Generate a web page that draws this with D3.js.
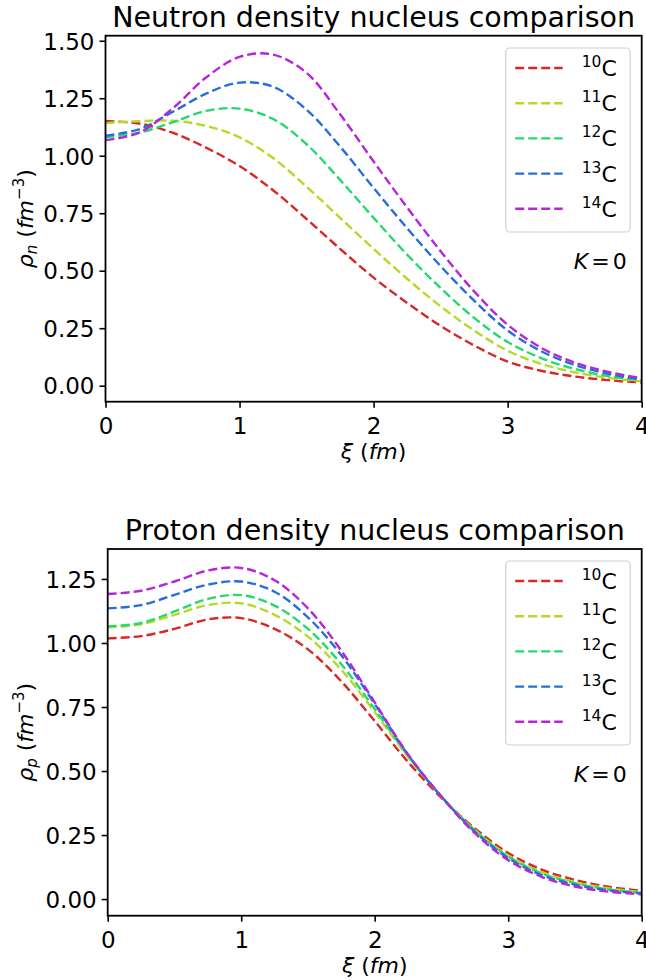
<!DOCTYPE html>
<html>
<head>
<meta charset="utf-8">
<script src="https://cdn.jsdelivr.net/npm/d3@7"></script>
<style>
  body { margin: 0; background: #fff; }
  svg { display: block; font-family: "DejaVu Sans", sans-serif; }
</style>
</head>
<body>
<div id="canvas"></div>
<script>
// xi grid (fm)
const xi = [0, 0.25, 0.5, 0.75, 1, 1.25, 1.5, 1.75, 2, 2.25, 2.5, 2.75, 3, 3.25, 3.5, 3.75, 4];

// neutron density
const rhoN10 = [1.151, 1.14, 1.1, 1.035, 0.955, 0.85, 0.725, 0.595, 0.47, 0.36, 0.26, 0.175, 0.105, 0.065, 0.04, 0.024, 0.014];
const rhoN11 = [1.142, 1.15, 1.152, 1.13, 1.08, 0.99, 0.865, 0.73, 0.595, 0.465, 0.345, 0.24, 0.152, 0.095, 0.058, 0.034, 0.019];
const rhoN12 = [1.08, 1.1, 1.145, 1.195, 1.205, 1.16, 1.05, 0.895, 0.73, 0.57, 0.425, 0.295, 0.19, 0.12, 0.073, 0.042, 0.023];
const rhoN13 = [1.087, 1.115, 1.19, 1.27, 1.318, 1.3, 1.2, 1.04, 0.86, 0.685, 0.52, 0.37, 0.24, 0.15, 0.09, 0.052, 0.028];
const rhoN14 = [1.068, 1.1, 1.205, 1.34, 1.43, 1.44, 1.36, 1.18, 0.975, 0.775, 0.585, 0.41, 0.265, 0.165, 0.1, 0.06, 0.032];

// proton density
const rhoP10 = [1.018, 1.027, 1.055, 1.092, 1.097, 1.055, 0.975, 0.85, 0.695, 0.535, 0.395, 0.276, 0.18, 0.115, 0.075, 0.048, 0.032];
const rhoP11 = [1.061, 1.073, 1.11, 1.148, 1.155, 1.11, 1.025, 0.895, 0.73, 0.555, 0.4, 0.27, 0.17, 0.105, 0.066, 0.042, 0.027];
const rhoP12 = [1.065, 1.078, 1.123, 1.172, 1.187, 1.146, 1.055, 0.917, 0.742, 0.56, 0.4, 0.268, 0.166, 0.1, 0.062, 0.038, 0.024];
const rhoP13 = [1.135, 1.148, 1.188, 1.228, 1.24, 1.2, 1.1, 0.952, 0.762, 0.563, 0.4, 0.263, 0.16, 0.094, 0.056, 0.034, 0.022];
const rhoP14 = [1.191, 1.204, 1.24, 1.283, 1.293, 1.245, 1.135, 0.97, 0.768, 0.565, 0.4, 0.257, 0.152, 0.087, 0.049, 0.029, 0.019];

const massNumbers = ["10", "11", "12", "13", "14"];
const colors = ["#d92626", "#b5d926", "#26d96e", "#266ed9", "#b526d9"];
const xTicks = [0, 1, 2, 3, 4];
const yTicksN = [0, 0.25, 0.5, 0.75, 1.0, 1.25, 1.5];
const yTicksP = [0, 0.25, 0.5, 0.75, 1.0, 1.25];

const svg = d3.select("#canvas").append("svg")
	.attr("width", 646).attr("height", 980);

function drawPanel(opt) {
	const x = d3.scaleLinear().domain([0, 4]).range([opt.left, opt.right]);
	const y = d3.scaleLinear().domain(opt.yDomain).range([opt.bottom, opt.top]);
	const g = svg.append("g");

	const line = d3.line()
		.x((d, i) => x(xi[i]))
		.y(d => y(d))
		.curve(d3.curveCatmullRom.alpha(0.5));

	// curves
	opt.series.forEach((s, i) => {
		g.append("path")
			.attr("d", line(s))
			.attr("fill", "none")
			.attr("stroke", colors[i])
			.attr("stroke-width", 2.4)
			.attr("stroke-dasharray", "9,4");
	});

	// axes
	const xAxis = g.append("g").attr("transform", `translate(0,${opt.bottom})`)
		.call(d3.axisBottom(x).tickValues(xTicks).tickFormat(d3.format("d")).tickSizeOuter(0).tickSize(6).tickPadding(5));
	const yAxis = g.append("g").attr("transform", `translate(${opt.left},0)`)
		.call(d3.axisLeft(y).tickValues(opt.yTicks).tickFormat(d3.format(".2f")).tickSizeOuter(0).tickSize(6).tickPadding(5));
	[xAxis, yAxis].forEach(a => {
		a.select(".domain").remove();
		a.selectAll(".tick line").attr("stroke", "#000").attr("stroke-width", 1.6);
		a.selectAll(".tick text").attr("fill", "#000").style("font-size", "23px").style("font-family", "DejaVu Sans");
	});
	xAxis.selectAll(".tick text").attr("dy", "0.92em");
	yAxis.selectAll(".tick text").attr("dy", "0.36em");

	// frame
	g.append("rect")
		.attr("x", opt.left).attr("y", opt.top)
		.attr("width", opt.right - opt.left).attr("height", opt.bottom - opt.top)
		.attr("fill", "none").attr("stroke", "#000").attr("stroke-width", 1.8);

	// title
	g.append("text")
		.attr("x", (opt.left + opt.right) / 2).attr("y", opt.top - 9)
		.attr("text-anchor", "middle")
		.style("font-size", "28.5px")
		.text(opt.title);

	// x label
	const xl = g.append("text")
		.attr("x", (opt.left + opt.right) / 2).attr("y", opt.bottom + 57)
		.attr("text-anchor", "middle")
		.style("font-size", "22px");
	xl.append("tspan").style("font-style", "italic").text("ξ");
	xl.append("tspan").text(" (");
	xl.append("tspan").style("font-style", "italic").text("fm");
	xl.append("tspan").text(")");

	// y label
	const yl = g.append("text")
		.attr("transform", `translate(33,${(opt.top + opt.bottom) / 2}) rotate(-90)`)
		.attr("text-anchor", "middle")
		.style("font-size", "22px");
	yl.append("tspan").style("font-style", "italic").text("ρ");
	yl.append("tspan").style("font-style", "italic").style("font-size", "15px").attr("dy", 4).text(opt.sub);
	yl.append("tspan").attr("dy", -4).text(" (");
	yl.append("tspan").style("font-style", "italic").text("fm");
	yl.append("tspan").style("font-size", "15px").attr("dy", -9).text("−3");
	yl.append("tspan").attr("dy", 9).text(")");

	// legend
	const lx = opt.right - 136, ly = opt.legendTop;
	const leg = g.append("g");
	leg.append("rect")
		.attr("x", lx).attr("y", ly)
		.attr("width", 124.5).attr("height", 184)
		.attr("rx", 4)
		.attr("fill", "#fff").attr("fill-opacity", 0.8)
		.attr("stroke", "#d0d0d0").attr("stroke-width", 1.2);
	massNumbers.forEach((m, i) => {
		const cy = ly + 20 + i * 35.2;
		leg.append("line")
			.attr("x1", lx + 9.5).attr("x2", lx + 57)
			.attr("y1", cy).attr("y2", cy)
			.attr("stroke", colors[i]).attr("stroke-width", 2.4)
			.attr("stroke-dasharray", "9,4");
		const t = leg.append("text")
			.attr("x", lx + 76).attr("y", cy + 8)
			.style("font-size", "22px");
		t.append("tspan").style("font-size", "15.5px").attr("dy", -9).text(m);
		t.append("tspan").attr("dy", 9).text("C");
	});

	// K = 0
	const k = g.append("text")
		.attr("x", opt.right - 15).attr("y", opt.kY)
		.attr("text-anchor", "end")
		.style("font-size", "22px");
	k.append("tspan").style("font-style", "italic").text("K");
	k.append("tspan").attr("dx", 3).text("=");
	k.append("tspan").attr("dx", 3).text("0");
}

drawPanel({
	left: 105.5, right: 641.7, top: 35.7, bottom: 401.7,
	yDomain: [-0.0696, 1.522], yTicks: yTicksN,
	series: [rhoN10, rhoN11, rhoN12, rhoN13, rhoN14],
	title: "Neutron density nucleus comparison", sub: "n",
	legendTop: 48, kY: 269
});

drawPanel({
	left: 107.7, right: 641.7, top: 549, bottom: 915.7,
	yDomain: [-0.065, 1.367], yTicks: yTicksP,
	series: [rhoP10, rhoP11, rhoP12, rhoP13, rhoP14],
	title: "Proton density nucleus comparison", sub: "p",
	legendTop: 561, kY: 782
});
</script>
</body>
</html>
